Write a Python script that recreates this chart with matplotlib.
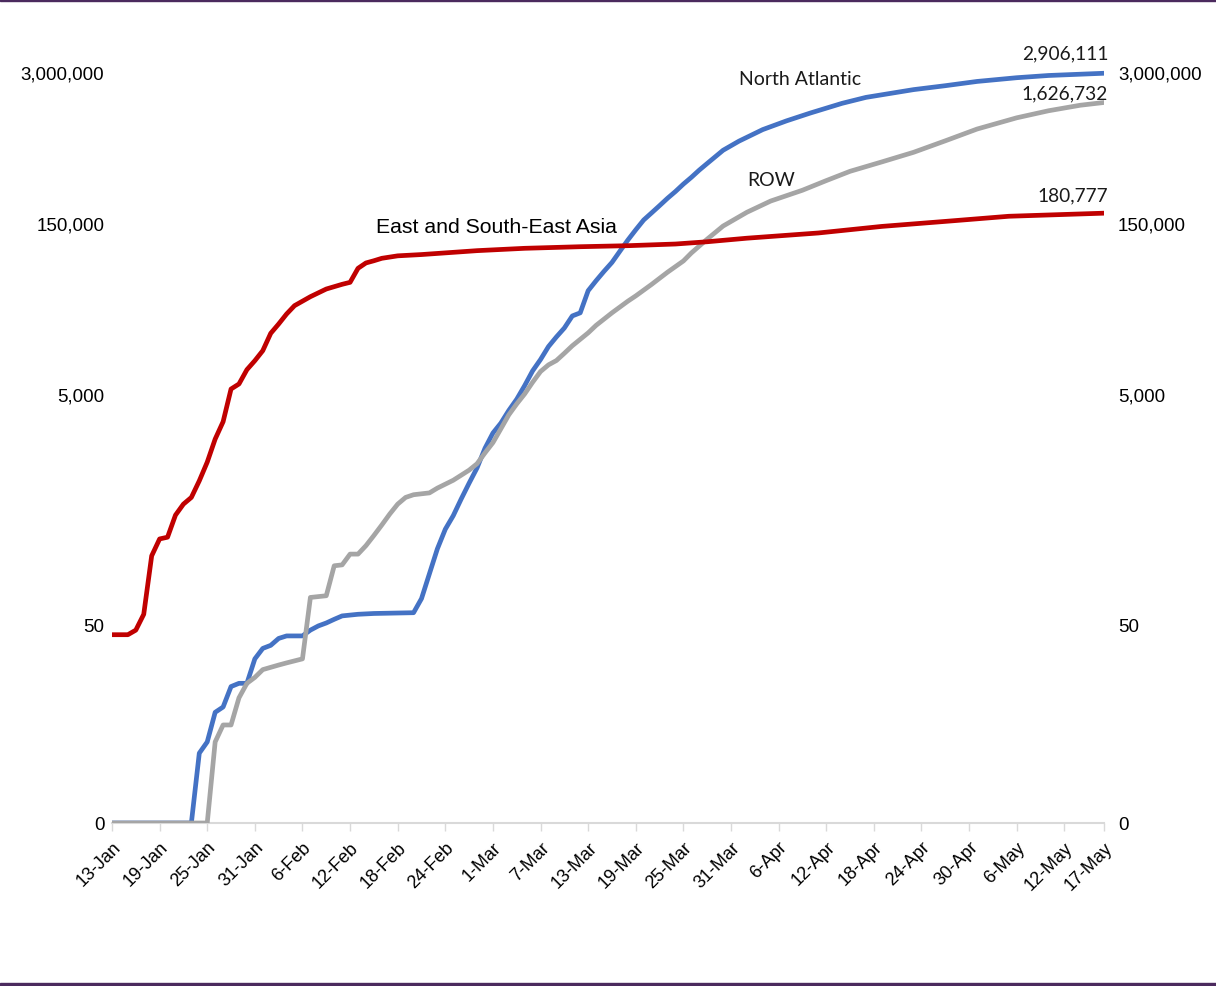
import numpy as np
import pandas as pd
import matplotlib
matplotlib.use("Agg")
import matplotlib.pyplot as plt
from matplotlib.patches import Rectangle

plt.rcParams["font.family"] = ["Liberation Sans", "DejaVu Sans"]

# Cumulative confirmed cases by region, 2020
na_dates = ["01-13", "01-23", "01-24", "01-25", "01-26", "01-27", "01-28", "01-29",
            "01-30", "01-31", "02-01", "02-02", "02-03", "02-04", "02-06", "02-07",
            "02-08", "02-09", "02-10", "02-11", "02-13", "02-15", "02-20", "02-21",
            "02-22", "02-23", "02-24", "02-25", "02-26", "02-27", "02-28", "02-29",
            "03-01", "03-02", "03-03", "03-04", "03-05", "03-06", "03-07", "03-08",
            "03-09", "03-10", "03-11", "03-12", "03-13", "03-14", "03-15", "03-16",
            "03-17", "03-18", "03-19", "03-20", "03-21", "03-22", "03-23", "03-24",
            "03-25", "03-26", "03-27", "03-28", "03-30", "04-01", "04-04", "04-07",
            "04-10", "04-14", "04-17", "04-23", "04-27", "05-01", "05-06", "05-10",
            "05-17"]
na_cases = [0, 0, 3, 4, 8, 9, 14, 15,
            15, 25, 31, 33, 38, 40, 40, 45,
            49, 52, 56, 60, 62, 63, 64, 85,
            140, 230, 340, 445, 620, 850, 1150, 1700,
            2300, 2800, 3600, 4500, 5900, 7900, 9900, 12800,
            15500, 18500, 23500, 25000, 38800, 47300, 57000, 68000,
            85000, 106000, 130000, 158000, 182000, 210000, 243000, 278000,
            322000, 368000, 425000, 485000, 630000, 755000, 950000, 1130000,
            1320000, 1600000, 1800000, 2100000, 2270000, 2470000, 2660000, 2780000,
            2906111]

row_dates = ["01-13", "01-25", "01-26", "01-27", "01-28", "01-29", "01-30", "01-31",
             "02-01", "02-03", "02-04", "02-06", "02-07", "02-09", "02-10", "02-11",
             "02-12", "02-13", "02-14", "02-15", "02-16", "02-17", "02-18", "02-19",
             "02-20", "02-22", "02-23", "02-25", "02-27", "02-28", "02-29", "03-01",
             "03-02", "03-03", "03-04", "03-05", "03-06", "03-07", "03-08", "03-09",
             "03-10", "03-11", "03-13", "03-14", "03-16", "03-18", "03-19", "03-21",
             "03-23", "03-25", "03-26", "03-28", "03-30", "04-02", "04-05", "04-09",
             "04-12", "04-15", "04-19", "04-23", "04-27", "05-01", "05-06", "05-10",
             "05-14", "05-17"]
row_cases = [0, 0, 4, 6, 6, 11, 15, 17,
             20, 22, 23, 25, 87, 90, 164, 167,
             207, 207, 245, 300, 370, 460, 560, 640,
             675, 700, 770, 900, 1100, 1250, 1550, 1900,
             2500, 3300, 4100, 5000, 6300, 7800, 8900, 9700,
             11200, 13000, 16800, 19500, 25000, 31500, 35000, 44000,
             56000, 70000, 82000, 108000, 140000, 184000, 230000, 285000,
             345000, 415000, 500000, 605000, 760000, 960000, 1200000, 1380000,
             1540000, 1626732]

asia_dates = ["01-13", "01-15", "01-16", "01-17", "01-18", "01-19", "01-20", "01-21",
              "01-22", "01-23", "01-24", "01-25", "01-26", "01-27", "01-28", "01-29",
              "01-30", "01-31", "02-01", "02-02", "02-03", "02-04", "02-05", "02-07",
              "02-09", "02-11", "02-12", "02-13", "02-14", "02-15", "02-16", "02-18",
              "02-21", "02-28", "03-05", "03-12", "03-18", "03-24", "03-28", "04-02",
              "04-11", "04-19", "04-28", "05-05", "05-17"]
asia_cases = [41, 41, 45, 62, 200, 280, 290, 450,
              560, 640, 890, 1290, 2040, 2880, 5510, 6090,
              8090, 9670, 11800, 16650, 20040, 24430, 28830, 34450,
              40110, 44040, 45800, 60500, 67300, 70300, 73800, 77500,
              79500, 85900, 90000, 92900, 94800, 98000, 102500, 110000,
              122000, 139000, 155500, 170000, 180777]

x_tick_labels = ["13-Jan", "19-Jan", "25-Jan", "31-Jan", "6-Feb", "12-Feb", "18-Feb",
                 "24-Feb", "1-Mar", "7-Mar", "13-Mar", "19-Mar", "25-Mar", "31-Mar",
                 "6-Apr", "12-Apr", "18-Apr", "24-Apr", "30-Apr", "6-May", "12-May",
                 "17-May"]
y_ticks = [0, 50, 5000, 150000, 3000000]


def to_dates(md):
    return pd.to_datetime(["2020-" + s for s in md])


def fwd(v):
    return np.log10(1.0 + np.clip(v, 0, None))


def inv(v):
    return 10.0 ** np.asarray(v) - 1.0


fig = plt.figure(figsize=(12.16, 9.87), dpi=100)
fig.patch.set_facecolor("white")
ax = fig.add_axes([112 / 1216, 1 - 824 / 987, 992 / 1216, 784 / 987])

line_kw = dict(lw=3.4, solid_capstyle="round", solid_joinstyle="round")
ax.plot(to_dates(na_dates), na_cases, color="#4472C4", zorder=3, **line_kw)
ax.plot(to_dates(row_dates), row_cases, color="#A5A5A5", zorder=4, **line_kw)
ax.plot(to_dates(asia_dates), asia_cases, color="#C00000", zorder=5, **line_kw)

ax.set_yscale("function", functions=(fwd, inv))
ymax = inv(784 / 116)
ax.set_ylim(0, ymax)
ax.set_xlim(pd.Timestamp("2020-01-13"), pd.Timestamp("2020-05-17"))

tick_pos = pd.to_datetime([t + "-2020" for t in x_tick_labels], format="%d-%b-%Y")
ax.set_xticks(tick_pos)
ax.set_xticklabels(x_tick_labels, rotation=45, ha="right", rotation_mode="anchor",
                   fontsize=13, color="#000000")
ax.tick_params(axis="x", direction="out", length=6, width=1, color="#D9D9D9", pad=5)

for side in ["left", "right", "top"]:
    ax.spines[side].set_visible(False)
ax.spines["bottom"].set_color("#D9D9D9")
ax.spines["bottom"].set_linewidth(1.5)

tick_text = [f"{v:,}" for v in y_ticks]
ax.set_yticks(y_ticks)
ax.set_yticklabels(tick_text, fontsize=13.5, color="#000000")
ax.tick_params(axis="y", length=0, pad=5.5)

ax2 = ax.twinx()
ax2.set_yscale("function", functions=(fwd, inv))
ax2.set_ylim(0, ymax)
ax2.set_yticks(y_ticks)
ax2.set_yticklabels(tick_text, fontsize=13.5, color="#000000")
ax2.tick_params(axis="y", length=0, pad=10)
for side in ["left", "right", "top", "bottom"]:
    ax2.spines[side].set_visible(False)

# series names
ax.text(pd.Timestamp("2020-04-01"), 2600000, "North Atlantic", fontsize=14,
        family="Lato", color="#1a1a1a", va="center")
ax.text(pd.Timestamp("2020-04-02"), 356000, "ROW", fontsize=14,
        family="Lato", color="#1a1a1a", va="center")
ax.text(pd.Timestamp("2020-02-15 05:00"), 140000, "East and South-East Asia",
        fontsize=15.3, color="#000000", va="center")

# end-of-series values
end_day = pd.Timestamp("2020-05-17")
for cases, dy in [(na_cases, 15), (row_cases, 7), (asia_cases, 13)]:
    ax.annotate(f"{cases[-1]:,}", xy=(end_day, cases[-1]), xytext=(3, dy),
                textcoords="offset points", ha="right", va="center",
                fontsize=13.8, family="Lato", color="#1a1a1a")

# frame lines at top and bottom of the canvas
fig.patches.append(Rectangle((0, 1 - 2 / 987), 1, 2 / 987, transform=fig.transFigure,
                             color="#4B2A5E", zorder=10))
fig.patches.append(Rectangle((0, 0), 1, 3 / 987, transform=fig.transFigure,
                             color="#4B2A5E", zorder=10))

fig.savefig("out.png", dpi=100)
